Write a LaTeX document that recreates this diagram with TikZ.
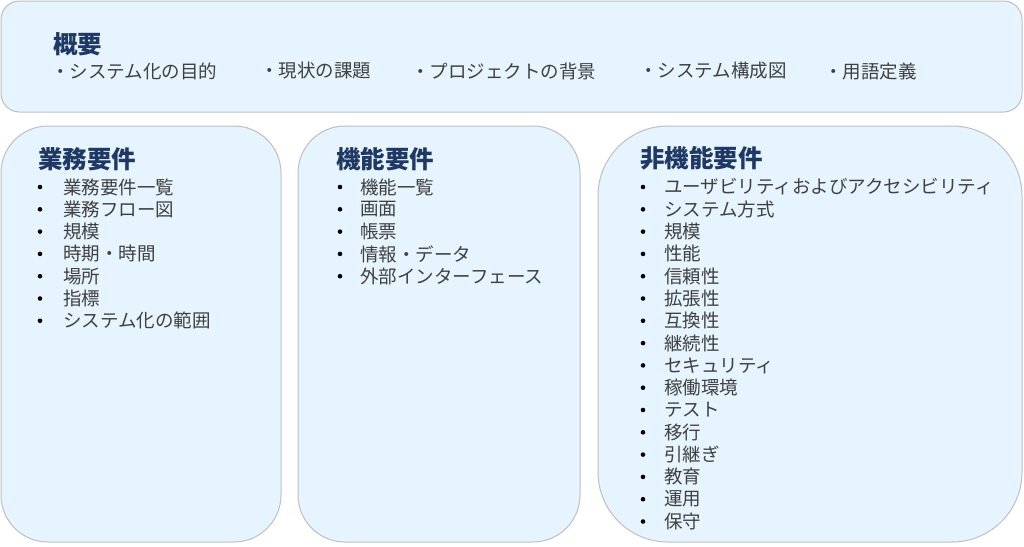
\documentclass[tikz,border=0pt]{standalone}
\usepackage{fontspec}
\setmainfont{Noto Sans CJK JP}
\usepackage{tikz}

\definecolor{boxfill}{RGB}{229,244,255}
\definecolor{boxline}{RGB}{191,191,191}
\definecolor{titlecol}{RGB}{31,56,100}
\definecolor{itemcol}{RGB}{64,64,64}

\tikzset{
	panel/.style = {draw = boxline, fill = boxfill, line width = 1pt},
	heading/.style = {anchor = west, inner sep = 0pt, text = titlecol, font = \fontsize{24.5}{28}\selectfont\bfseries},
	entry/.style = {anchor = west, inner sep = 0pt, text = itemcol, font = \fontsize{18.5}{22}\selectfont},
	dot/.style = {circle, fill = black, inner sep = 0pt, minimum size = 4.6pt}
}

\begin{document}
\begin{tikzpicture} [x = 1pt, y = -1pt]
			\useasboundingbox (0,0) rectangle (1024,546);

			% Panels
			\draw [panel, rounded corners = 18.5pt] (1,1) rectangle (1022,112);
			\draw [panel, rounded corners = 47pt] (1,126) rectangle (281,542);
			\draw [panel, rounded corners = 47pt] (298,126) rectangle (580,542);
			\draw [panel, rounded corners = 70pt] (598,126) rectangle (1022,542);

			% Overview
			\node (gaiyo) [heading] at (53,44) {概要};
			\node (gaiyo1) [entry] at (51,71) {・システム化の目的};
			\node (gaiyo2) [entry] at (260,71) {・現状の課題};
			\node (gaiyo3) [entry] at (411,71) {・プロジェクトの背景};
			\node (gaiyo4) [entry] at (639,71) {・システム構成図};
			\node (gaiyo5) [entry] at (824,71) {・用語定義};

			% Business requirements
			\node (gyomu) [heading] at (38,159) {業務要件};
			\foreach \txt [count = \i] in {業務要件一覧, 業務フロー図, 規模, 時期・時間, 場所, 指標, システム化の範囲}
			{
				\node (gyomudot\i) [dot] at (40,{187 + (\i - 1) * 22.3}) {};
				\node (gyomu\i) [entry] at (63,{187 + (\i - 1) * 22.3}) {\txt};
			}

			% Functional requirements
			\node (kino) [heading] at (336,159) {機能要件};
			\foreach \txt [count = \i] in {機能一覧, 画面, 帳票, 情報・データ, 外部インターフェース}
			{
				\node (kinodot\i) [dot] at (340,{187 + (\i - 1) * 22.3}) {};
				\node (kino\i) [entry] at (360,{187 + (\i - 1) * 22.3}) {\txt};
			}

			% Non-functional requirements
			\node (hikino) [heading] at (640,158) {非機能要件};
			\foreach \txt [count = \i] in {ユーザビリティおよびアクセシビリティ, システム方式, 規模, 性能, 信頼性, 拡張性, 互換性, 継続性,
				セキュリティ, 稼働環境, テスト, 移行, 引継ぎ, 教育, 運用, 保守}
			{
				\node (hikinodot\i) [dot] at (643,{187 + (\i - 1) * 22.3}) {};
				\node (hikino\i) [entry] at (664,{187 + (\i - 1) * 22.3}) {\txt};
			}
		\end{tikzpicture}
\end{document}
